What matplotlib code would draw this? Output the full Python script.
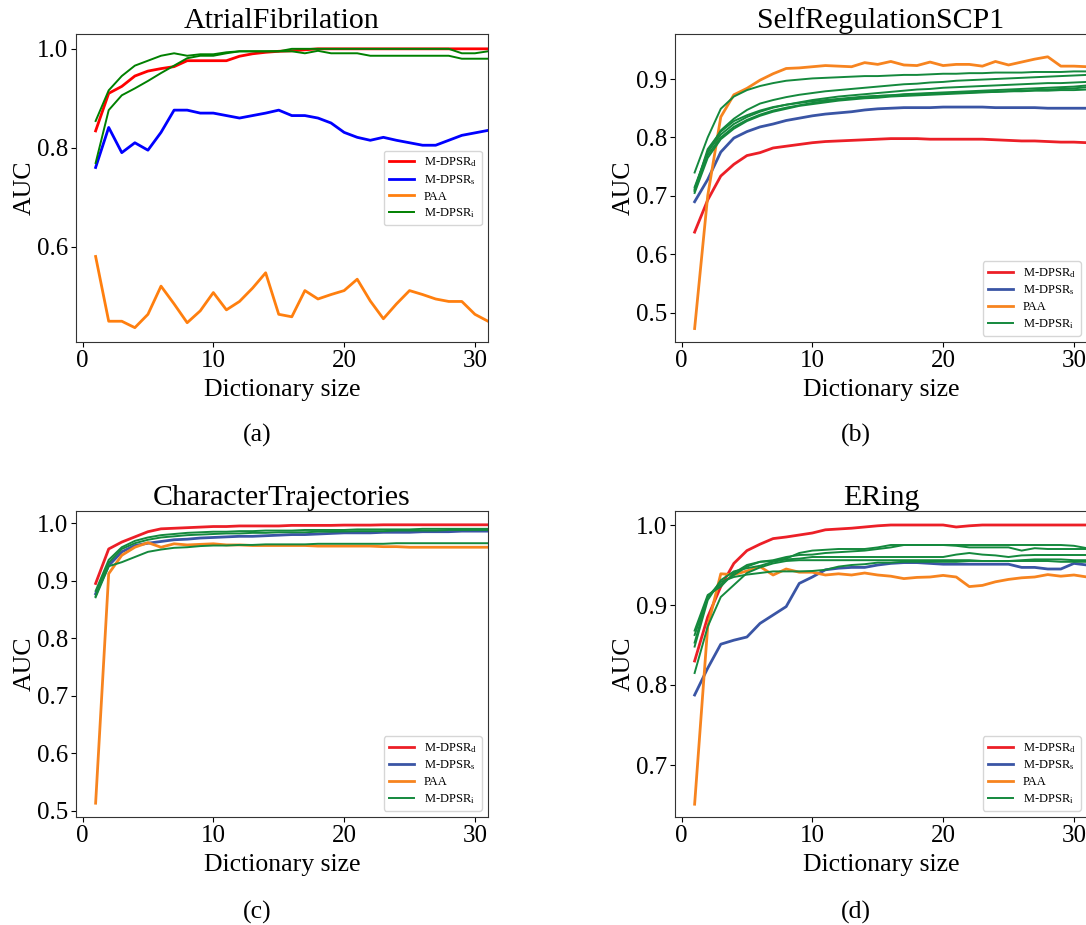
import numpy as np
import matplotlib
matplotlib.use('Agg')
import matplotlib.pyplot as plt

plt.rcParams['font.family'] = ['Liberation Serif', 'DejaVu Serif']
plt.rcParams['mathtext.fontset'] = 'custom'
plt.rcParams['mathtext.rm'] = 'Liberation Serif'
plt.rcParams['mathtext.it'] = 'Liberation Serif:italic'

dict_size = list(range(1, 32))
legend_names = ['M-DPSR$_\\mathrm{d}$', 'M-DPSR$_\\mathrm{s}$', 'PAA', 'M-DPSR$_\\mathrm{i}$']
titles = ['AtrialFibrilation', 'SelfRegulationSCP1', 'CharacterTrajectories', 'ERing']
captions = ['(a)', '(b)', '(c)', '(d)']

# (a) AtrialFibrilation
af_d = [0.834, 0.910, 0.924, 0.945, 0.955, 0.960, 0.964, 0.976, 0.976, 0.976, 0.976, 0.985, 0.990,
        0.993, 0.995, 0.996, 0.998, 1.0, 1.0, 1.0, 1.0, 1.0, 1.0, 1.0, 1.0, 1.0, 1.0, 1.0, 1.0, 1.0, 1.0]
af_s = [0.760, 0.841, 0.790, 0.810, 0.795, 0.831, 0.876, 0.876, 0.870, 0.870, 0.865, 0.860, 0.865,
        0.870, 0.876, 0.865, 0.865, 0.860, 0.850, 0.831, 0.821, 0.815, 0.821, 0.815, 0.810, 0.805,
        0.805, 0.815, 0.825, 0.830, 0.835]
af_paa = [0.580, 0.449, 0.449, 0.436, 0.463, 0.520, 0.484, 0.446, 0.470, 0.507, 0.472, 0.489, 0.516,
          0.547, 0.463, 0.458, 0.511, 0.494, 0.503, 0.511, 0.534, 0.490, 0.454, 0.484, 0.511, 0.503,
          0.494, 0.489, 0.489, 0.463, 0.449]
af_i = [
    [0.854, 0.916, 0.945, 0.966, 0.976, 0.986, 0.991, 0.986, 0.989, 0.989, 0.993, 0.995, 0.995, 0.995,
     0.995, 0.995, 0.991, 0.996, 0.991, 0.991, 0.991, 0.986, 0.986, 0.986, 0.986, 0.986, 0.986, 0.986,
     0.980, 0.980, 0.980],
    [0.769, 0.876, 0.906, 0.920, 0.935, 0.951, 0.966, 0.981, 0.986, 0.986, 0.991, 0.995, 0.995, 0.995,
     0.995, 1.0, 1.0, 1.0, 1.0, 1.0, 1.0, 1.0, 1.0, 1.0, 1.0, 1.0, 1.0, 1.0, 0.991, 0.991, 0.995],
]

# (b) SelfRegulationSCP1
sr_d = [0.638, 0.693, 0.734, 0.754, 0.769, 0.774, 0.782, 0.785, 0.788, 0.791, 0.793, 0.794, 0.795,
        0.796, 0.797, 0.798, 0.798, 0.798, 0.797, 0.797, 0.797, 0.797, 0.797, 0.796, 0.795, 0.794,
        0.794, 0.793, 0.792, 0.792, 0.791]
sr_s = [0.690, 0.728, 0.775, 0.799, 0.810, 0.818, 0.823, 0.829, 0.833, 0.837, 0.840, 0.842, 0.844,
        0.847, 0.849, 0.850, 0.851, 0.851, 0.851, 0.852, 0.852, 0.852, 0.852, 0.851, 0.851, 0.851,
        0.851, 0.850, 0.850, 0.850, 0.850]
sr_paa = [0.473, 0.700, 0.835, 0.873, 0.884, 0.898, 0.909, 0.918, 0.919, 0.921, 0.923, 0.922, 0.921,
          0.928, 0.925, 0.930, 0.924, 0.923, 0.929, 0.923, 0.925, 0.925, 0.922, 0.930, 0.924, 0.929,
          0.934, 0.938, 0.922, 0.922, 0.921]
sr_i = [
    [0.740, 0.800, 0.849, 0.870, 0.881, 0.888, 0.893, 0.897, 0.899, 0.901, 0.902, 0.903, 0.904, 0.905,
     0.905, 0.906, 0.907, 0.907, 0.908, 0.909, 0.909, 0.910, 0.910, 0.911, 0.911, 0.911, 0.912, 0.912,
     0.912, 0.913, 0.913],
    [0.715, 0.775, 0.812, 0.832, 0.847, 0.858, 0.864, 0.869, 0.873, 0.876, 0.879, 0.881, 0.883, 0.885,
     0.887, 0.889, 0.891, 0.892, 0.894, 0.895, 0.897, 0.898, 0.899, 0.900, 0.901, 0.902, 0.903, 0.904,
     0.905, 0.906, 0.907],
    [0.712, 0.775, 0.805, 0.823, 0.835, 0.844, 0.851, 0.856, 0.860, 0.864, 0.867, 0.870, 0.872, 0.874,
     0.876, 0.878, 0.880, 0.882, 0.883, 0.885, 0.886, 0.887, 0.888, 0.889, 0.890, 0.891, 0.892, 0.893,
     0.893, 0.894, 0.895],
    [0.708, 0.770, 0.800, 0.818, 0.830, 0.839, 0.846, 0.851, 0.855, 0.859, 0.862, 0.865, 0.867, 0.869,
     0.871, 0.872, 0.874, 0.875, 0.876, 0.877, 0.878, 0.879, 0.880, 0.881, 0.882, 0.883, 0.884, 0.885,
     0.886, 0.887, 0.889],
    [0.705, 0.765, 0.797, 0.815, 0.828, 0.837, 0.844, 0.849, 0.854, 0.857, 0.860, 0.863, 0.865, 0.867,
     0.868, 0.870, 0.871, 0.872, 0.873, 0.874, 0.875, 0.876, 0.877, 0.878, 0.879, 0.880, 0.881, 0.882,
     0.883, 0.884, 0.886],
    [0.710, 0.780, 0.810, 0.828, 0.838, 0.846, 0.852, 0.856, 0.859, 0.862, 0.864, 0.866, 0.868, 0.870,
     0.871, 0.872, 0.873, 0.874, 0.875, 0.876, 0.876, 0.877, 0.878, 0.878, 0.879, 0.879, 0.880, 0.880,
     0.881, 0.881, 0.882],
]

# (c) CharacterTrajectories
ct_d = [0.895, 0.955, 0.967, 0.976, 0.985, 0.990, 0.991, 0.992, 0.993, 0.994, 0.994, 0.995, 0.995,
        0.995, 0.995, 0.996, 0.996, 0.996, 0.996, 0.9965, 0.9965, 0.9965, 0.997, 0.997, 0.997, 0.997,
        0.997, 0.997, 0.997, 0.997, 0.997]
ct_s = [0.877, 0.926, 0.950, 0.961, 0.965, 0.968, 0.971, 0.972, 0.974, 0.975, 0.976, 0.977, 0.977,
        0.978, 0.979, 0.980, 0.980, 0.981, 0.982, 0.983, 0.983, 0.983, 0.984, 0.984, 0.984, 0.985,
        0.985, 0.985, 0.986, 0.986, 0.986]
ct_paa = [0.513, 0.912, 0.944, 0.958, 0.966, 0.958, 0.964, 0.962, 0.963, 0.964, 0.962, 0.962, 0.961,
          0.961, 0.961, 0.961, 0.961, 0.960, 0.960, 0.960, 0.960, 0.960, 0.959, 0.959, 0.958, 0.958,
          0.958, 0.958, 0.958, 0.958, 0.958]
ct_i = [
    [0.882, 0.936, 0.958, 0.969, 0.975, 0.979, 0.981, 0.983, 0.984, 0.985, 0.985, 0.986, 0.986, 0.987,
     0.987, 0.987, 0.988, 0.988, 0.988, 0.988, 0.989, 0.989, 0.989, 0.989, 0.989, 0.990, 0.990, 0.990,
     0.990, 0.990, 0.990],
    [0.873, 0.931, 0.955, 0.965, 0.971, 0.975, 0.977, 0.979, 0.980, 0.981, 0.982, 0.982, 0.983, 0.983,
     0.984, 0.984, 0.984, 0.985, 0.985, 0.9855, 0.986, 0.986, 0.986, 0.987, 0.987, 0.987, 0.987, 0.988,
     0.988, 0.988, 0.988],
    [0.871, 0.925, 0.932, 0.941, 0.950, 0.954, 0.957, 0.958, 0.960, 0.961, 0.961, 0.962, 0.962, 0.963,
     0.963, 0.963, 0.963, 0.964, 0.964, 0.964, 0.964, 0.964, 0.964, 0.965, 0.965, 0.965, 0.965, 0.965,
     0.965, 0.965, 0.965],
]

# (d) ERing
er_d = [0.830, 0.885, 0.923, 0.952, 0.968, 0.976, 0.983, 0.985, 0.9875, 0.990, 0.994, 0.995, 0.996,
        0.9975, 0.999, 1.0, 1.0, 1.0, 1.0, 1.0, 0.9975, 0.999, 1.0, 1.0, 1.0, 1.0, 1.0, 1.0, 1.0, 1.0, 1.0]
er_s = [0.7875, 0.821, 0.851, 0.856, 0.860, 0.877, 0.8875, 0.898, 0.927, 0.935, 0.944, 0.946, 0.947,
        0.947, 0.950, 0.952, 0.953, 0.953, 0.952, 0.951, 0.951, 0.951, 0.951, 0.951, 0.951, 0.947,
        0.947, 0.945, 0.945, 0.952, 0.950]
er_paa = [0.651, 0.873, 0.939, 0.938, 0.9425, 0.948, 0.9375, 0.945, 0.941, 0.941, 0.9375, 0.939,
          0.9375, 0.940, 0.9375, 0.936, 0.933, 0.9345, 0.935, 0.937, 0.935, 0.923, 0.9245, 0.929,
          0.932, 0.934, 0.935, 0.938, 0.936, 0.9375, 0.935]
er_i = [
    [0.868, 0.9125, 0.923, 0.940, 0.950, 0.954, 0.955, 0.958, 0.965, 0.968, 0.969, 0.970, 0.970, 0.970,
     0.972, 0.975, 0.975, 0.975, 0.975, 0.975, 0.974, 0.972, 0.972, 0.972, 0.972, 0.968, 0.971, 0.970,
     0.970, 0.970, 0.970],
    [0.853, 0.910, 0.926, 0.9375, 0.948, 0.954, 0.956, 0.960, 0.9625, 0.963, 0.965, 0.966, 0.967, 0.968,
     0.970, 0.972, 0.975, 0.975, 0.975, 0.975, 0.975, 0.975, 0.975, 0.975, 0.975, 0.975, 0.975, 0.975,
     0.975, 0.974, 0.971],
    [0.848, 0.906, 0.931, 0.942, 0.946, 0.949, 0.954, 0.957, 0.958, 0.960, 0.960, 0.960, 0.960, 0.960,
     0.960, 0.960, 0.960, 0.960, 0.960, 0.960, 0.963, 0.965, 0.963, 0.962, 0.960, 0.962, 0.9625, 0.9625,
     0.9625, 0.9625, 0.9625],
    [0.815, 0.873, 0.910, 0.925, 0.940, 0.947, 0.952, 0.955, 0.956, 0.956, 0.956, 0.956, 0.956, 0.956,
     0.956, 0.956, 0.956, 0.956, 0.956, 0.956, 0.956, 0.956, 0.955, 0.955, 0.955, 0.956, 0.957, 0.957,
     0.957, 0.956, 0.956],
    [0.8625, 0.910, 0.929, 0.935, 0.938, 0.940, 0.942, 0.942, 0.942, 0.9425, 0.944, 0.948, 0.950, 0.951,
     0.953, 0.953, 0.954, 0.954, 0.954, 0.954, 0.954, 0.955, 0.955, 0.955, 0.955, 0.955, 0.955, 0.955,
     0.954, 0.954, 0.954],
]

ylims = [(0.407, 1.030), (0.450, 0.977), (0.489, 1.021), (0.635, 1.0175)]
yticks = [[0.6, 0.8, 1.0], [0.5, 0.6, 0.7, 0.8, 0.9], [0.5, 0.6, 0.7, 0.8, 0.9, 1.0], [0.7, 0.8, 0.9, 1.0]]

W, H = 1086, 925
# axes boxes in pixels: left, top, right, bottom
boxes = [(76, 34, 488, 342), (675, 34, 1087, 342), (76, 511, 488, 817), (675, 511, 1087, 817)]
caption_pos = [(257, 435), (856, 435), (257, 912), (856, 912)]

pure = ['red', 'blue', '#ff7f0e', 'green']
soft = ['#ec1f27', '#3a55a5', '#f7841f', '#14893d']

panels = [
    (af_d, af_s, af_paa, af_i, pure, 'center right'),
    (sr_d, sr_s, sr_paa, sr_i, soft, 'lower right'),
    (ct_d, ct_s, ct_paa, ct_i, soft, 'lower right'),
    (er_d, er_s, er_paa, er_i, soft, 'lower right'),
]

fig = plt.figure(figsize=(W / 100, H / 100), dpi=100)

for k, (d, s, paa, greens, cols, loc) in enumerate(panels):
    l, t, r, b = boxes[k]
    ax = fig.add_axes([l / W, 1 - b / H, (r - l) / W, (b - t) / H])
    ax.plot(dict_size, d, color=cols[0], lw=2.0, label=legend_names[0])
    ax.plot(dict_size, s, color=cols[1], lw=2.0, label=legend_names[1])
    ax.plot(dict_size, paa, color=cols[2], lw=2.0, label=legend_names[2])
    for j, g in enumerate(greens):
        ax.plot(dict_size, g, color=cols[3], lw=1.4,
                label=legend_names[3] if j == 0 else None)
    ax.set_xlim(-0.5, 31)
    ax.set_ylim(*ylims[k])
    ax.set_xticks([0, 10, 20, 30])
    ax.set_yticks(yticks[k])
    ax.tick_params(labelsize=18, pad=2)
    for sp in ax.spines.values():
        sp.set_color('#333333')
    ax.set_title(titles[k], fontsize=21.5, pad=4)
    ax.set_xlabel('Dictionary size', fontsize=18.5, labelpad=5)
    ax.set_ylabel('AUC', fontsize=18.5, labelpad=1)
    ax.legend(loc=loc, fontsize=9, labelspacing=0.3, handlelength=2.0)
    cx, cy = caption_pos[k]
    fig.text(cx / W, 1 - cy / H, captions[k], fontsize=18.5, ha='center', va='center')

fig.savefig('out.png', dpi=100)
